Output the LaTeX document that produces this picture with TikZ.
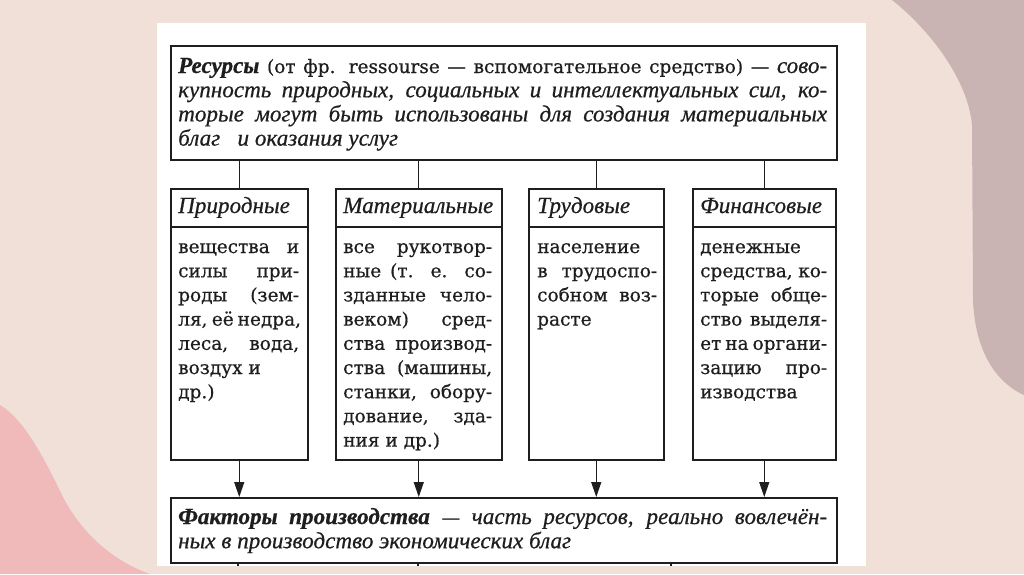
\documentclass[tikz,border=0pt]{standalone}
\usepackage{fontspec}
\setmainfont{DejaVu Serif}[FakeBold=0.6,
  ItalicFont=Liberation Serif Italic, ItalicFeatures={Scale=1.25, FakeBold=0.6},
  BoldItalicFont=Liberation Serif Bold Italic, BoldItalicFeatures={Scale=1.25, FakeBold=0.6}]
\usetikzlibrary{arrows.meta}
\definecolor{bg}{RGB}{240,224,216}
\definecolor{mauve}{RGB}{201,179,179}
\definecolor{pinkb}{RGB}{240,186,186}
\definecolor{ink}{RGB}{30,30,30}
\newcommand\J[2]{\makebox[#1][s]{#2}}
\begin{document}
\begin{tikzpicture}[x=1pt,y=-1pt,
  frame/.style={draw=ink, line width=1.5pt, rectangle, inner sep=0, anchor=north west},
  conn/.style={draw=ink, line width=1.3pt},
  arr/.style={conn, -{Triangle[length=15pt,width=10pt]}},
  txt/.style={anchor=base west, inner sep=0, align=left, text=ink,
    font=\fontsize{18.5}{24.2}\selectfont},
  head/.style={txt, font=\fontsize{18.5}{24.2}\selectfont\itshape}]
\useasboundingbox (0,0) rectangle (1024,574);
% background
\fill[bg] (0,0) rectangle (1024,574);
\fill[mauve] (892,0) .. controls (930,30) and (968,80) .. (972,125) -- (973,300)
  .. controls (975,350) and (995,382) .. (1024,395) -- (1024,0) -- cycle;
\fill[pinkb] (0,405) .. controls (25,420) and (45,460) .. (63,497)
  .. controls (80,530) and (110,560) .. (150,574) -- (0,574) -- cycle;
\fill[white] (157,23) rectangle (866,566);
% boxes
\node[frame, minimum width=666, minimum height=114] (top) at (170,45) {};
\node[frame, minimum width=137, minimum height=271] (b1) at (170,188) {};
\node[frame, minimum width=166, minimum height=271] (b2) at (335,188) {};
\node[frame, minimum width=135, minimum height=271] (b3) at (528,188) {};
\node[frame, minimum width=143, minimum height=271] (b4) at (692,188) {};
\node[frame, minimum width=666, minimum height=65] (bot) at (170,497) {};
\foreach \b in {b1,b2,b3,b4}{
  \draw[conn] ([yshift=-39pt]\b.north west) -- ([yshift=-39pt]\b.north east);
  \draw[conn] (\b.north |- top.south) -- (\b.north);
  \draw[arr] (\b.south) -- (\b.south |- bot.north);
}
\coordinate (t1) at (238,566);
\coordinate (t2) at (418,566);
\coordinate (t3) at (671,566);
\foreach \t in {t1,t2,t3}{\draw[conn] (bot.south -| \t) -- (\t);}
% texts (anchor = baseline of the last line)
\node[txt] (toptext) at (178,145.6) {%
\J{649pt}{\textbf{\textit{Ресурсы}} (от фр. ressourse — вспомогательное средство) — \textit{сово-}}\\
\J{649pt}{\textit{купность природных, социальных и интеллектуальных сил, ко-}}\\
\J{649pt}{\textit{торые могут быть использованы для создания материальных}}\\
\textit{благ\enspace\ и оказания услуг}};
\node[head] (h1) at (178,213) {Природные};
\node[head] (h2) at (343,213) {Материальные};
\node[head] (h3) at (537,213) {Трудовые};
\node[head] (h4) at (700,213) {Финансовые};
\node[txt] (t1text) at (178,398.2) {%
\J{121pt}{вещества и}\\
\J{121pt}{силы при-}\\
\J{121pt}{роды (зем-}\\
\J{121pt}{ля, её недра,}\\
\J{121pt}{леса, вода,}\\
воздух и\\
др.)};
\node[txt] (t2text) at (343,446.6) {%
\J{149pt}{все рукотвор-}\\
\J{149pt}{ные (т. е. со-}\\
\J{149pt}{зданные чело-}\\
\J{149pt}{веком) сред-}\\
\J{149pt}{ства производ-}\\
\J{149pt}{ства (машины,}\\
\J{149pt}{станки, обору-}\\
\J{149pt}{дование, зда-}\\
ния и др.)};
\node[txt] (t3text) at (537,325.6) {%
население\\
\J{120pt}{в трудоспо-}\\
\J{120pt}{собном воз-}\\
расте};
\node[txt] (t4text) at (700,398.2) {%
денежные\\
\J{127pt}{средства, ко-}\\
\J{127pt}{торые обще-}\\
\J{127pt}{ство выделя-}\\
\J{127pt}{ет на органи-}\\
\J{127pt}{зацию про-}\\
изводства};
\node[txt] (bottext) at (178,548.2) {%
\J{649pt}{\textbf{\textit{Факторы производства}} — \textit{часть ресурсов, реально вовлечён-}}\\
\textit{ных в производство экономических благ}};
\end{tikzpicture}
\end{document}
